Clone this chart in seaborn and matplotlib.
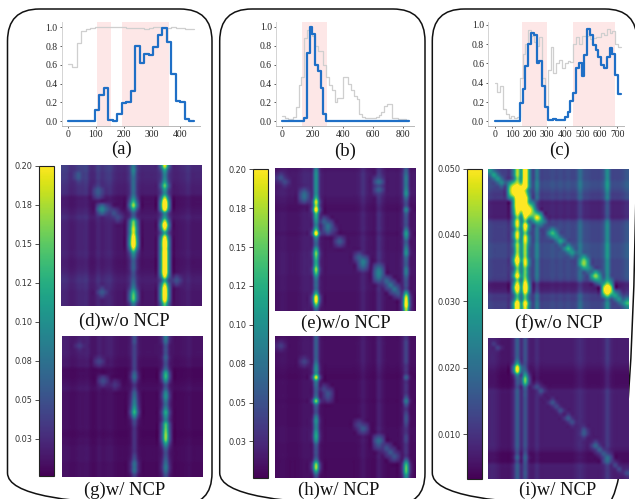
import numpy as np
import matplotlib
matplotlib.use("Agg")
import matplotlib.pyplot as plt
from matplotlib.patches import FancyBboxPatch
import seaborn as sns

sns.set_style("white")
plt.rcParams["font.family"] = ["Liberation Serif", "DejaVu Serif"]

W, H = 635, 499
BLUE, GRAY, SHADE = "#1f6fc6", "#cfcfcf", "#fde7e7"

# ---------- top line panels ----------
a_bin = 16
a_blue = [0, 0, 0, 0, 0, 0, .12, .28, .35, .01, 0, .08, .19, .21, .32, .80, .62, .72, .70, .79, .92, .99, .84, .50, .22, .20, .02, 0]
a_gray = [.61, .58, .83, .96, .98, .99, 1, 1, 1, 1, 1, 1, 1, .995, .99, .995, .99, .985, .995, 1, 1, .995, .995, 1, .995, .99, .985, .985]
a_spans = [(103, 153), (193, 359)]
a_xticks = [0, 100, 200, 300, 400]

b_bin = 18.2
b_blue = [0, 0, 0, 0, 0, 0, 0, 0, .03, .72, 1.0, .93, .60, .53, .35, .08] + [0] * 30
b_gray = [.06, .03, .02, .02, .04, .15, .38, .47, .88, .97, .93, .90, .80, .75, .75, .60, .47, .38, .33, .20, .25, .25, .47, .47, .40,
          .33, .27, .24, .08, .04, .03, .03, .03, .03, .04, .07, .10, .16, .18, .18, .03, .03, .02, .02, .02, .01]
b_spans = [(132, 295)]
b_xticks = [0, 200, 400, 600, 800]

c_bin = 16
c_blue = [0, 0, 0, 0, 0, 0, 0, 0, 0, .19, .33, .57, .80, .92, .89, .60, .63, .37, .15, .01, .01, .02, .01, .01, .01, .04, .10, .21, .29,
          .55, .60, .47, .69, .96, .89, .79, .74, .67, .58, .55, .67, .76, .70, .48, .28]
c_gray = [.40, .30, .37, .13, .08, .03, .05, .03, .04, .45, .70, .80, .95, .88, .82, .78, .87, .45, .15, .53, .77, .50, .60, .64, .55,
          .60, .63, .62, .80, .87, .80, .88, .88, .88, .85, .86, .87, .87, .92, .90, .96, .92, .94, .80, .77]
c_spans = [(156, 300), (449, 685)]
c_xticks = [0, 100, 200, 300, 400, 500, 600, 700]

y_ticks = [0.0, 0.2, 0.4, 0.6, 0.8, 1.0]

# ---------- heatmap values (36 x 36 grid, colour-scale units) ----------
d_cols = [.03, .028, .022, .024, .03, .03, .032, .02, .02, .03, .024, .028, .03, .022, .018, .018, .018, .03, .05, .028, .018, .018,
          .018, .018, .02, .028, .05, .028, .018, .016, .018, .02, .024, .018, .018, .018]
d_rows = [1.3, 1.3, 1.2, 1.2, 1.1, 1.0, .95, .9, .55, .55, .55, .65, .75, .9, .75, .7, .7, .7, .7, .7, .7, .7, .75, .7, .6, .6, .65,
          .75, .9, 1.0, .9, .85, .75, .75, .75, .75]
d_s1 = [.08, .09, .08, .07, .07, .07, .07, .07, .09, .13, .17, .11, .06, .07, .15, .17, .19, .19, .22, .24, .24, .18, .11, .08, .06,
        .06, .06, .05, .05, .06, .07, .09, .13, .15, .14, .08]
d_s2 = [.19, .12, .09, .09, .11, .15, .11, .10, .17, .24, .26, .22, .10, .11, .18, .24, .19, .12, .20, .24, .25, .24, .25, .25, .25,
        .25, .25, .25, .20, .12, .18, .23, .24, .24, .22, .15]
d_spot_r = [11, 11, 12, 6, 7, 2, 3, 32, 13, 29]
d_spot_c = [10, 11, 13, 9, 9, 4, 4, 10, 14, 29]
d_spot_v = [.09, .06, .05, .055, .055, .055, .055, .055, .045, .05]

g_cols = [c * .7 for c in d_cols]
g_rows = [.9, .9, .9, .9, .9, .8, .7, .7, .4, .4, .4, .5, .6, .7, .5, .5, .5, .5, .5, .5, .5, .5, .5, .5, .4, .4, .5, .5, .6, .6, .6,
          .6, .5, .5, .5, .5]
g_s1 = [.05, .05, .04, .04, .04, .04, .04, .04, .04, .06, .07, .05, .03, .04, .06, .07, .08, .09, .11, .13, .09, .05, .04, .03, .03,
        .03, .03, .03, .03, .03, .04, .05, .07, .07, .07, .04]
g_s2 = [.08, .07, .05, .05, .05, .06, .05, .05, .07, .12, .13, .09, .05, .06, .09, .10, .08, .07, .09, .12, .10, .09, .14, .15, .16,
        .17, .16, .11, .07, .05, .05, .06, .07, .08, .07, .05]
g_spot_r = [11, 6, 2, 12]
g_spot_c = [10, 9, 4, 13]
g_spot_v = [.045, .04, .035, .03]

e_cols = [.013, .016, .016, .013, .013, .013, .016, .02, .02, .024, .032, .024, .013, .013, .013, .013, .013, .013, .013, .013, .013,
          .016, .024, .016, .013, .013, .03, .02, .013, .013, .013, .013, .024, .034, .016, .013]
e_rows = [1.0, 1.2, 1.2, 1.2, 1.2, 1.2, 1.2, 1.0, .9, .75, .7, .9, .9, .9, .9, .9, .75, .9, .9, .9, .9, 1.0, 1.0, 1.0, 1.0, 1.0, 1.0,
          .9, .9, .9, .9, .8, .8, .8, .8, .8]
e_s1 = [.09, .10, .10, .10, .10, .10, .10, .13, .19, .17, .22, .14, .12, .10, .09, .14, .22, .10, .07, .07, .12, .16, .14, .12, .13,
        .17, .14, .09, .07, .07, .07, .12, .21, .21, .14, .07]
e_s2 = [.06, .07, .08, .08, .08, .09, .10, .07, .05, .05, .09, .06, .05, .05, .05, .08, .11, .09, .06, .07, .09, .10, .07, .06, .06,
        .08, .08, .06, .05, .05, .05, .12, .19, .21, .22, .18]
e_spot_r = [2, 3, 6, 7, 13, 14, 15, 15, 18, 22, 23, 24, 25, 26, 27, 28, 29, 30, 31, 3, 5]
e_spot_c = [1, 2, 7, 7, 12, 13, 13, 14, 16, 21, 22, 22, 26, 26, 26, 28, 29, 30, 31, 26, 26]
e_spot_v = [.05, .045, .07, .07, .06, .075, .07, .045, .055, .06, .085, .075, .08, .09, .08, .065, .075, .075, .055, .07, .06]

h_cols = [c * .75 for c in e_cols]
h_rows = [.9, 1.0, 1.0, 1.0, 1.0, 1.0, 1.0, .9, .8, .7, .65, .8, .8, .8, .8, .8, .7, .8, .8, .8, .8, .8, .8, .9, .9, .9, .9, .8, .8,
          .8, .8, .7, .7, .7, .7, .7]
h_s1 = [.06, .06, .06, .06, .06, .06, .07, .09, .10, .10, .19, .09, .07, .06, .06, .08, .16, .07, .05, .05, .08, .10, .09, .09, .11,
        .12, .10, .06, .05, .05, .05, .08, .16, .17, .10, .05]
h_s2 = [.03, .04, .04, .04, .04, .04, .04, .03, .03, .03, .06, .03, .03, .03, .03, .05, .08, .05, .03, .04, .05, .05, .04, .03, .03,
        .04, .04, .03, .03, .03, .03, .07, .13, .15, .14, .10]
h_spot_r = [2, 6, 13, 14, 15, 22, 23, 26, 27, 28, 29, 30]
h_spot_c = [1, 7, 12, 13, 13, 21, 22, 26, 26, 28, 29, 30]
h_spot_v = [.035, .04, .04, .05, .045, .04, .055, .07, .055, .05, .055, .05]

f_cols = [.013, .012, .012, .012, .012, .011, .018, .04, .024, .04, .016, .013, .022, .013, .013, .013, .014, .013, .014, .013, .014,
          .013, .014, .02, .015, .014, .013, .013, .013, .016, .026, .014, .013, .013, .014, .016]
f_rows = [1.0, 1.0, 1.0, 1.1, 1.1, 1.0, .9, .9, .6, .6, .6, .6, .6, .9, 1.0, 1.0, 1.0, 1.0, 1.0, 1.1, 1.1, 1.1, 1.1, 1.0, 1.0,
          1.0, 1.0, 1.0, .9, .55, .55, .65, .9, .9, 1.0, 1.0]
f_s1 = [.045, .045, .04, .045, .055, .06, .06, .06, .06, .06, .055, .05, .04, .05, .05, .04, .05, .05, .04, .045, .04, .04, .05, .06,
        .05, .035, .045, .055, .04, .05, .06, .05, .035, .04, .06, .06]
f_s2 = [.06, .06, .06, .06, .06, .045, .05, .06, .06, .06, .06, .06, .05, .04, .055, .05, .04, .05, .05, .045, .04, .04, .04, .05,
        .05, .04, .04, .04, .045, .055, .06, .055, .04, .04, .055, .05]
f_spot_r = [0, 1, 2, 3, 4, 5, 6, 7, 8, 9, 10, 11, 12, 13, 16, 17, 18, 20, 21, 23, 24, 25, 27, 28, 29, 30, 31, 32, 33, 34, 4, 5, 6, 9, 10, 11]
f_spot_c = [0, 1, 2, 3, 8, 8, 8, 8, 8, 8, 8, 11, 12, 13, 16, 17, 18, 20, 21, 24, 24, 25, 27, 28, 30, 30, 30, 32, 33, 35, 6, 6, 6, 10, 10, 10]
f_spot_v = [.028, .03, .028, .025, .05, .06, .06, .06, .06, .06, .05, .04, .05, .03, .035, .028, .03, .033, .028, .04, .042, .028,
            .042, .028, .042, .06, .06, .03, .027, .035, .05, .055, .05, .045, .055, .05]

i_cols = [.008, .008, .007, .006, .006, .006, .009, .017, .009, .015, .008, .007, .009, .007, .007, .007, .007, .007, .007, .007, .007,
          .007, .008, .009, .008, .007, .007, .007, .007, .008, .011, .008, .007, .007, .007, .007]
i_rows = [1.0, 1.0, 1.0, 1.0, 1.0, 1.0, .95, .85, .75, .7, .7, .7, .75, 1.0, 1.0, 1.0, 1.0, 1.0, 1.0, 1.0, 1.0, 1.0, 1.0, 1.0, 1.0,
          1.0, 1.0, 1.0, .9, .7, .7, .7, 1.0, 1.0, 1.0, 1.0]
i_s1 = [.009, .01, .011, .013, .015, .02, .03, .052, .05, .024, .017, .016, .014, .016, .016, .013, .016, .015, .013, .014, .013, .013,
        .014, .016, .015, .012, .013, .015, .012, .014, .018, .014, .011, .012, .017, .017]
i_s2 = [.012, .012, .012, .012, .012, .012, .012, .016, .02, .03, .04, .036, .02, .016, .016, .015, .013, .014, .014, .013, .012, .012,
        .012, .013, .013, .012, .012, .012, .012, .015, .018, .016, .012, .012, .016, .014]
i_spot_r = [1, 2, 12, 13, 16, 17, 18, 20, 21, 23, 24, 27, 28, 29, 30, 31, 32, 33, 34]
i_spot_c = [1, 2, 12, 13, 16, 17, 18, 20, 21, 24, 24, 27, 28, 29, 30, 30, 32, 33, 35]
i_spot_v = [.011, .012, .014, .015, .015, .013, .014, .016, .014, .015, .016, .018, .017, .016, .02, .019, .013, .013, .014]

cb_ticks_ab = [.2, .175, .15, .125, .1, .075, .05, .025]
cb_labels_ab = ["0.20", "0.18", "0.15", "0.12", "0.10", "0.08", "0.05", "0.03"]
cb_ticks_c = [.05, .04, .03, .02, .01]
cb_labels_c = ["0.050", "0.040", "0.030", "0.020", "0.010"]

captions = ["(a)", "(b)", "(c)", "(d)w/o NCP", "(e)w/o NCP", "(f)w/o NCP", "(g)w/ NCP", "(h)w/ NCP", "(i)w/ NCP"]


def box(x0, y0, x1, y1):
    return [x0 / W, 1 - y1 / H, (x1 - x0) / W, (y1 - y0) / H]


fig = plt.figure(figsize=(W / 100, H / 100), dpi=100, facecolor="white")

# page overlay in pixel coordinates: rounded frames and captions
page = fig.add_axes([0, 0, 1, 1], zorder=0)
page.set_xlim(0, W)
page.set_ylim(H, 0)
page.axis("off")
for x0, x1 in [(7.5, 212), (219.7, 425), (432.3, 637)]:
    page.add_patch(FancyBboxPatch((x0 + 32, 9 + 32), x1 - x0 - 64, 505 - 9 - 64,
                                  boxstyle="round,pad=32,rounding_size=32", fc="none", ec="#111111", lw=1.1))
caption_xy = [(121.7, 149), (345, 151), (559, 150), (124.3, 321.5), (345.7, 323), (559.3, 323), (124.3, 490.5), (339, 490.5), (558, 490.5)]
for text, (cx, cy) in zip(captions, caption_xy):
    page.text(cx, cy, text, ha="center", va="center", fontsize=13.4, color="#111111")


def line_panel(rect, bin_w, blue, gray, spans, xticks, xlim, ylim):
    ax = fig.add_axes(box(*rect), zorder=2)
    ax.patch.set_alpha(0)
    for lo, hi in spans:
        ax.axvspan(lo, hi, color=SHADE, lw=0, zorder=0)
    xs = np.arange(len(blue) + 1) * bin_w
    sns.lineplot(x=xs, y=gray + gray[-1:], ax=ax, color=GRAY, lw=0.9, drawstyle="steps-post", estimator=None, zorder=2)
    sns.lineplot(x=xs, y=blue + blue[-1:], ax=ax, color=BLUE, lw=1.6, drawstyle="steps-post", estimator=None, zorder=3)
    ax.set_xlim(*xlim)
    ax.set_ylim(*ylim)
    ax.set_xticks(xticks)
    ax.set_yticks(y_ticks)
    ax.set_yticklabels([f"{t:.1f}" for t in y_ticks])
    ax.tick_params(labelsize=6.9, length=1.5, width=0.5, pad=1.5, colors="#222222", left=True, bottom=True)
    sns.despine(ax=ax)
    ax.spines["left"].set_color("#d4d4d4")
    ax.spines["bottom"].set_color("#b8b8b8")
    ax.spines["left"].set_linewidth(0.7)
    ax.spines["bottom"].set_linewidth(0.7)


line_panel((61.7, 22, 200, 126), a_bin, a_blue, a_gray, a_spans, a_xticks, (-21, 470), (-.05, 1.056))
line_panel((276, 22, 414, 125.7), b_bin, b_blue, b_gray, b_spans, b_xticks, (-40, 870), (-.047, 1.053))
line_panel((488.3, 22, 624.3, 126), c_bin, c_blue, c_gray, c_spans, c_xticks, (-36, 740), (-.049, 1.03))


def build(cols, rows, stripes, spots, side_k, spot_k):
    grid = np.outer(np.array(rows), np.array(cols))
    for col, vals in stripes:
        grid[:, col] = np.maximum(grid[:, col], vals)
        for side in (col - 1, col + 1):
            if 0 <= side < grid.shape[1]:
                grid[:, side] = np.maximum(grid[:, side], np.array(vals) * side_k)
    for r, c, v in zip(*spots):
        grid[r, c] = max(grid[r, c], v)
        for dr in (-1, 0, 1):
            for dc in (-1, 0, 1):
                rr, cc = r + dr, c + dc
                if (dr or dc) and 0 <= rr < grid.shape[0] and 0 <= cc < grid.shape[1]:
                    k = spot_k if dr == 0 or dc == 0 else spot_k * .7
                    grid[rr, cc] = max(grid[rr, cc], v * k)
    return grid


def heat_panel(rect, grid, vmin, vmax, cbar_rect=None, ticks=None, labels=None):
    ax = fig.add_axes(box(*rect), zorder=2)
    use_cb = cbar_rect is not None
    cax = fig.add_axes(box(*cbar_rect), zorder=2) if use_cb else None
    sns.heatmap(grid, ax=ax, vmin=vmin, vmax=vmax, cmap="viridis", cbar=use_cb, cbar_ax=cax,
                xticklabels=False, yticklabels=False, square=False)
    n_r, n_c = grid.shape
    # display smoothing of the same cell values on the same colour scale
    ax.imshow(grid, cmap="viridis", vmin=vmin, vmax=vmax, extent=(0, n_c, n_r, 0), aspect="auto", interpolation="catrom", zorder=3)
    ax.set_xlim(0, n_c)
    ax.set_ylim(n_r, 0)
    if use_cb:
        cb = ax.collections[0].colorbar
        cb.set_ticks(ticks)
        cb.set_ticklabels(labels)
        cb.ax.yaxis.set_ticks_position("left")
        cb.ax.tick_params(labelsize=5.9, length=3, width=0.6, pad=1.5, colors="#333333")
        for t in cb.ax.get_yticklabels():
            t.set_fontfamily("DejaVu Sans")
        cb.outline.set_visible(True)
        cb.outline.set_edgecolor("#222222")
        cb.outline.set_linewidth(0.8)


d = build(d_cols, d_rows, [(18, d_s1), (26, d_s2)], (d_spot_r, d_spot_c, d_spot_v), .42, .7)
g = build(g_cols, g_rows, [(18, g_s1), (26, g_s2)], (g_spot_r, g_spot_c, g_spot_v), .35, .7)
e = build(e_cols, e_rows, [(10, e_s1), (33, e_s2)], (e_spot_r, e_spot_c, e_spot_v), .25, .65)
h = build(h_cols, h_rows, [(10, h_s1), (33, h_s2)], (h_spot_r, h_spot_c, h_spot_v), .25, .65)
f = build(f_cols, f_rows, [(7, f_s1), (9, f_s2)], (f_spot_r, f_spot_c, f_spot_v), .5, .7)
i = build(i_cols, i_rows, [(7, i_s1), (9, i_s2)], (i_spot_r, i_spot_c, i_spot_v), .4, .65)

heat_panel((60.7, 164.7, 201.7, 306), d, .0013, .2, (39, 165.5, 54.3, 475.7), cb_ticks_ab, cb_labels_ab)
heat_panel((62, 336.3, 202.7, 476.7), g, .0013, .2)
heat_panel((274.7, 168.3, 415.7, 311), e, .0013, .2, (252.7, 169.3, 268.3, 478.3), cb_ticks_ab, cb_labels_ab)
heat_panel((274.7, 336.3, 415.7, 477.7), h, .0013, .2)
heat_panel((488.3, 169, 629, 308.7), f, .0033, .05, (466.7, 168.5, 482.3, 479), cb_ticks_c, cb_labels_c)
heat_panel((488.3, 338.3, 629, 478.7), i, .0033, .05)

fig.savefig("out.png", dpi=100)
